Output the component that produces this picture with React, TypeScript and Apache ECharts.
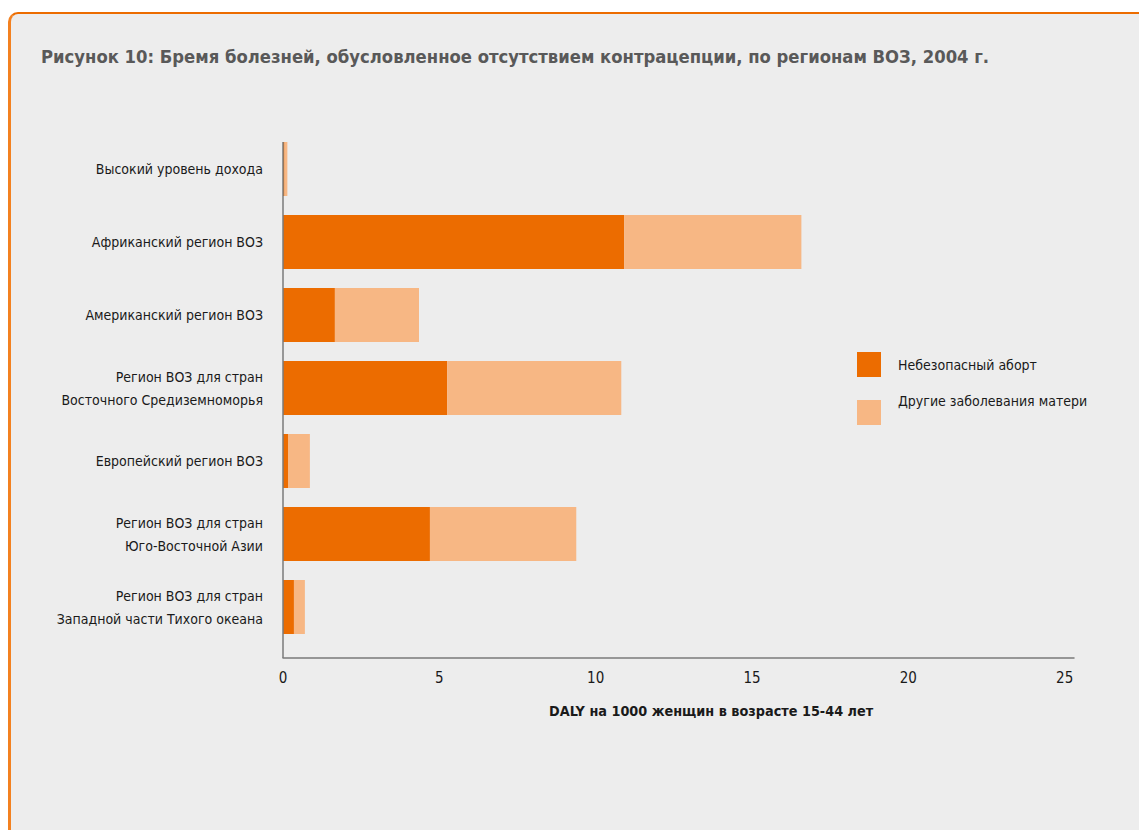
import React, { useEffect, useRef } from "react";
import * as echarts from "echarts";

const categories = [
  "Высокий уровень дохода",
  "Африканский регион ВОЗ",
  "Американский регион ВОЗ",
  "Регион ВОЗ для стран\nВосточного Средиземноморья",
  "Европейский регион ВОЗ",
  "Регион ВОЗ для стран\nЮго-Восточной Азии",
  "Регион ВОЗ для стран\nЗападной части Тихого океана",
];
const unsafeAbortion = [0.05, 10.91, 1.66, 5.25, 0.16, 4.7, 0.35];
const otherMaternal = [0.09, 5.67, 2.69, 5.57, 0.7, 4.68, 0.35];
const seriesNames = ["Небезопасный аборт", "Другие заболевания матери"];
const xTicks = [0, 5, 10, 15, 20, 25];
const titleText =
  "Рисунок 10: Бремя болезней, обусловленное отсутствием контрацепции, по регионам ВОЗ, 2004 г.";
const axisTitle = "DALY на 1000 женщин в возрасте 15-44 лет";

const FONT = "'DejaVu Sans Condensed', 'Liberation Sans Narrow', 'Roboto', sans-serif";
const TXT = "#1a1a1a";

export default function App() {
  const ref = useRef<HTMLDivElement>(null);
  useEffect(() => {
    if (!ref.current) return;
    const chart = echarts.init(ref.current, undefined, { renderer: "svg" });
    const legendBase = {
      orient: "vertical",
      left: 857,
      padding: 0,
      itemWidth: 24,
      itemHeight: 25,
      icon: "rect",
    };
    chart.setOption({
      animation: false,
      textStyle: { fontFamily: FONT },
      grid: { left: 283, top: 132.5, height: 511, right: 65 },
      legend: [
        {
          ...legendBase,
          top: 352,
          data: [seriesNames[0]],
          textStyle: { fontFamily: FONT, fontSize: 14, color: TXT, padding: [0, 0, 0, 12] },
        },
        {
          ...legendBase,
          top: 388.5,
          data: [seriesNames[1]],
          formatter: (name: string) => name + "\n ",
          textStyle: {
            fontFamily: FONT,
            fontSize: 14,
            lineHeight: 24,
            color: TXT,
            padding: [0, 0, 0, 12],
          },
        },
      ],
      xAxis: {
        type: "value",
        min: xTicks[0],
        max: 25.3,
        interval: 5,
        offset: 14.5,
        splitLine: { show: false },
        axisTick: { show: false },
        axisLine: { show: true, lineStyle: { color: "#7a7a7a", width: 1.5 } },
        axisLabel: {
          showMaxLabel: false,
          fontFamily: FONT,
          fontSize: 15,
          color: TXT,
          margin: 12,
        },
      },
      yAxis: {
        type: "category",
        inverse: true,
        data: categories,
        axisTick: { show: false },
        axisLine: { show: false },
        axisLabel: {
          fontFamily: FONT,
          fontSize: 14,
          color: TXT,
          margin: 20,
          lineHeight: 23,
          align: "right",
        },
      },
      series: [
        {
          name: seriesNames[0],
          type: "bar",
          stack: "total",
          data: unsafeAbortion,
          barWidth: 54,
          itemStyle: { color: "#ec6c00" },
        },
        {
          name: seriesNames[1],
          type: "bar",
          stack: "total",
          data: otherMaternal,
          barWidth: 54,
          itemStyle: { color: "#f7b784" },
        },
      ],
      graphic: [
        {
          type: "line",
          shape: { x1: 283, y1: 142, x2: 283, y2: 658 },
          style: { stroke: "#7a7a7a", lineWidth: 1.5 },
          z: 10,
        },
        {
          type: "text",
          left: 41,
          top: 47,
          style: {
            text: titleText,
            fontFamily: FONT,
            fontSize: 18.3,
            fontWeight: "bold",
            fill: "#595959",
          },
        },
        {
          type: "text",
          left: 549,
          top: 704,
          style: {
            text: axisTitle,
            fontFamily: FONT,
            fontSize: 14.3,
            fontWeight: "bold",
            fill: TXT,
          },
        },
      ],
    });
    return () => chart.dispose();
  }, []);

  return (
    <div
      style={{
        position: "fixed",
        left: 0,
        top: 0,
        width: 1139,
        height: 830,
        background: "#ffffff",
        overflow: "hidden",
      }}
    >
      <div
        style={{
          position: "absolute",
          left: 8,
          top: 12,
          width: 1300,
          height: 1000,
          boxSizing: "border-box",
          borderTop: "2px solid #ec6c00",
          borderLeft: "3px solid #f38120",
          borderTopLeftRadius: 10,
          background: "#ededed",
        }}
      />
      <div ref={ref} style={{ position: "absolute", left: 0, top: 0, width: 1139, height: 830 }} />
    </div>
  );
}
